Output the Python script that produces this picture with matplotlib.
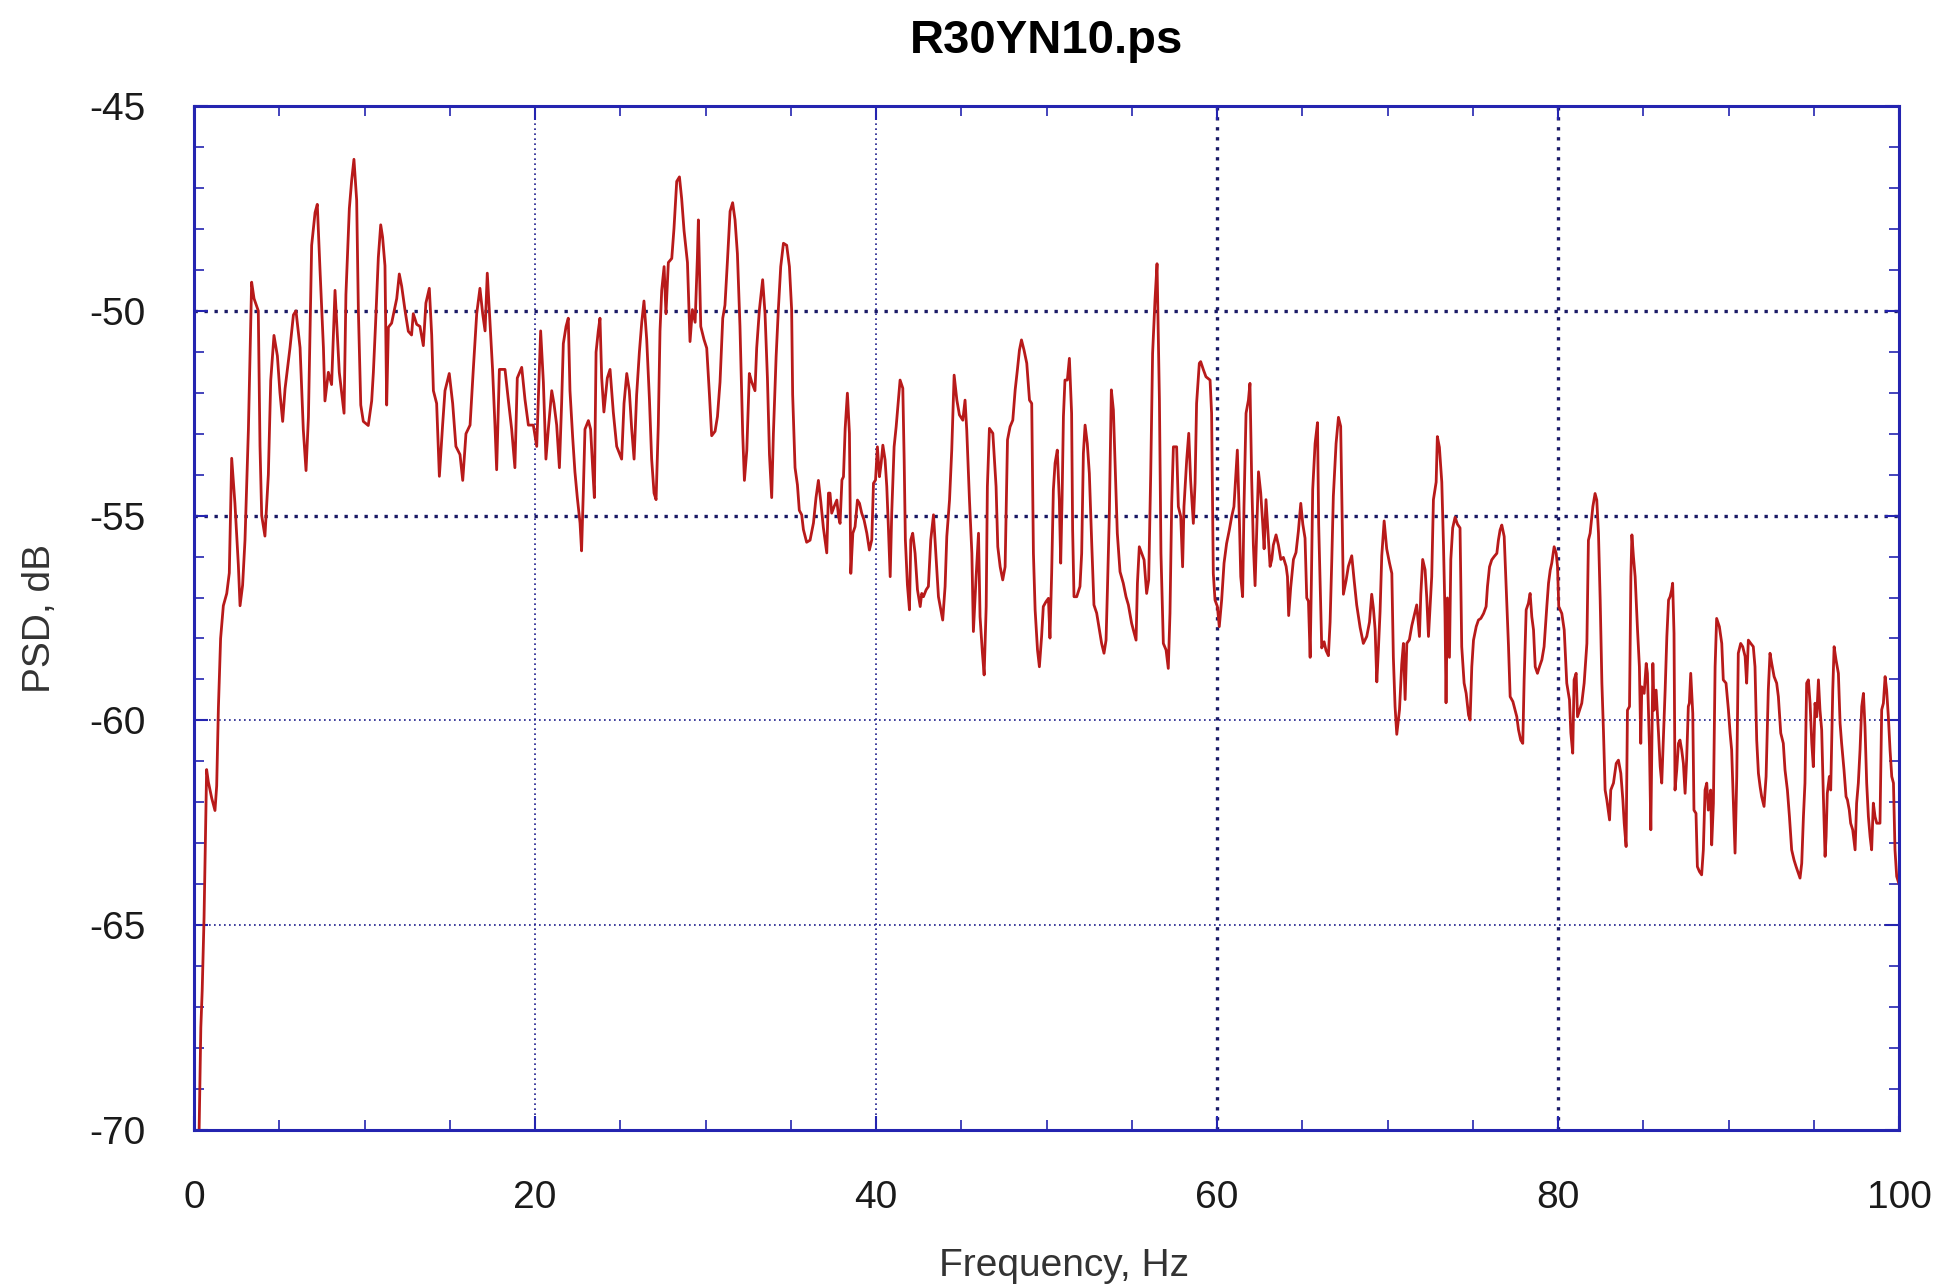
import matplotlib
matplotlib.use('Agg')
import matplotlib.pyplot as plt
from matplotlib.ticker import MultipleLocator

plt.rcParams['font.family'] = ['Liberation Sans', 'DejaVu Sans']
plt.rcParams['axes.unicode_minus'] = False

title = 'R30YN10.ps'
x_label = 'Frequency, Hz'
y_label = 'PSD, dB'

# spectrum, Hz
freq_hz = [
    0.30, 0.40, 0.48, 0.59, 0.74, 0.84, 1.04, 1.23, 1.33, 1.43, 1.56, 1.72, 1.92, 2.07, 2.21, 2.40,
    2.60, 2.70, 2.85, 2.99, 3.19, 3.38, 3.52, 3.77, 3.87, 3.97, 4.16, 4.36, 4.50, 4.69, 4.89, 5.04,
    5.20, 5.34, 5.63, 5.83, 5.98, 6.22, 6.41, 6.57, 6.71, 6.90, 7.10, 7.23, 7.39, 7.59, 7.68, 7.88,
    8.07, 8.27, 8.37, 8.52, 8.66, 8.80, 8.91, 9.11, 9.25, 9.38, 9.54, 9.64, 9.78, 9.93, 10.22, 10.42,
    10.52, 10.65, 10.81, 10.95, 11.06, 11.20, 11.30, 11.40, 11.59, 11.89, 12.04, 12.18, 12.38, 12.57,
    12.76, 12.86, 13.06, 13.25, 13.45, 13.60, 13.80, 13.94, 14.04, 14.23, 14.39, 14.58, 14.72, 14.97,
    15.17, 15.36, 15.60, 15.76, 15.95, 16.19, 16.38, 16.58, 16.77, 16.93, 17.07, 17.20, 17.36, 17.51,
    17.65, 17.75, 17.91, 18.24, 18.43, 18.63, 18.82, 18.96, 19.22, 19.41, 19.61, 19.90, 20.10, 20.25,
    20.33, 20.49, 20.64, 20.78, 20.98, 21.11, 21.27, 21.43, 21.56, 21.66, 21.82, 21.95, 22.05, 22.21,
    22.34, 22.48, 22.64, 22.73, 22.83, 22.93, 23.13, 23.26, 23.38, 23.48, 23.58, 23.71, 23.81, 23.91,
    24.04, 24.24, 24.40, 24.59, 24.79, 24.98,
    25.08, 25.22, 25.38, 25.53, 25.67, 25.81, 25.96, 26.12, 26.26, 26.39, 26.55, 26.71, 26.84, 26.98,
    27.10, 27.23, 27.33, 27.43, 27.57, 27.68, 27.82, 28.02, 28.15, 28.31, 28.47, 28.60, 28.74, 28.94,
    29.09, 29.23, 29.39, 29.52, 29.58, 29.72, 29.91, 30.07, 30.23, 30.36, 30.56, 30.70, 30.85, 31.01,
    31.14, 31.28, 31.44, 31.59, 31.73, 31.87, 32.02, 32.18, 32.28, 32.42, 32.57, 32.71, 32.90, 33.00,
    33.16, 33.35, 33.49, 33.63, 33.75, 33.88, 33.98, 34.14, 34.27, 34.41, 34.57, 34.76, 34.92, 35.05,
    35.11, 35.25, 35.39, 35.50, 35.64, 35.74, 35.93, 36.13, 36.33, 36.48, 36.62, 36.76, 36.91, 37.11,
    37.21, 37.30,
    37.40, 37.54, 37.70, 37.80, 37.89, 38.00, 38.09, 38.19, 38.32, 38.44, 38.52, 38.64, 38.77, 38.91,
    39.03, 39.16, 39.30, 39.46, 39.61, 39.75, 39.85, 39.97, 40.08, 40.20, 40.30, 40.40, 40.53, 40.63,
    40.73, 40.83, 40.92, 41.06, 41.18, 41.31, 41.41, 41.57, 41.65, 41.72, 41.84, 41.96, 42.04, 42.15,
    42.29, 42.43, 42.59, 42.68, 42.78, 42.94, 43.07, 43.21, 43.37, 43.52, 43.66, 43.80, 43.91, 44.05,
    44.15, 44.31, 44.44, 44.58, 44.74, 44.89, 45.09, 45.22, 45.32, 45.48, 45.62, 45.71, 45.87, 46.01,
    46.10, 46.24, 46.34, 46.46, 46.53, 46.65, 46.85, 47.04, 47.14, 47.28, 47.43, 47.57, 47.71, 47.86,
    48.02, 48.16, 48.29, 48.41, 48.53, 48.68, 48.84, 49.00, 49.13, 49.23, 49.33, 49.47, 49.58,
    49.71, 49.81, 49.97, 50.11, 50.20, 50.30, 50.40, 50.50, 50.63, 50.75, 50.83, 50.91, 50.99, 51.08,
    51.22, 51.34, 51.47, 51.53, 51.61, 51.77, 51.96, 52.06, 52.16, 52.26, 52.39, 52.51, 52.65, 52.78,
    52.94, 53.10, 53.23, 53.37, 53.49, 53.57, 53.68, 53.80, 53.92, 54.02, 54.15, 54.31, 54.50, 54.66,
    54.80, 54.99, 55.25, 55.33, 55.44, 55.58, 55.72, 55.87, 55.99, 56.11, 56.22, 56.36, 56.48, 56.62,
    56.71, 56.85, 57.01, 57.14, 57.24, 57.34, 57.44, 57.63, 57.73, 57.87, 57.98, 58.06, 58.22, 58.34,
    58.45, 58.61, 58.71, 58.80, 58.96, 59.04, 59.20, 59.35, 59.59, 59.68, 59.78, 59.88, 60.02, 60.13,
    60.27, 60.41, 60.56, 60.72, 60.86, 60.99, 61.11, 61.19, 61.31, 61.39, 61.50, 61.58, 61.70, 61.84,
    61.93,
    62.03, 62.13, 62.23, 62.33, 62.43, 62.56, 62.68, 62.76, 62.87, 63.01, 63.11, 63.21, 63.30, 63.46,
    63.60, 63.74, 63.89, 64.05, 64.13, 64.20, 64.32, 64.48, 64.63, 64.77, 64.91, 65.03, 65.16, 65.26,
    65.36, 65.46, 65.53, 65.61, 65.75, 65.89, 65.96, 66.04, 66.14, 66.28, 66.39, 66.53, 66.63, 66.73,
    66.82, 66.98, 67.12, 67.25, 67.33, 67.41, 67.57, 67.70, 67.90, 68.04, 68.19, 68.39, 68.58, 68.78,
    68.94, 69.07, 69.17, 69.27, 69.37, 69.46, 69.56, 69.66, 69.80, 69.95, 70.11, 70.25, 70.34, 70.44,
    70.54, 70.70, 70.83, 70.93, 71.03, 71.13, 71.28, 71.42, 71.56, 71.71, 71.87, 71.95, 72.06, 72.20,
    72.30, 72.40, 72.49, 72.59, 72.69, 72.85, 72.92, 73.04, 73.18, 73.28, 73.37, 73.43, 73.51, 73.63,
    73.71, 73.82, 73.96, 74.10, 74.25,
    74.35, 74.49, 74.61, 74.75, 74.84, 74.94, 75.04, 75.20, 75.33, 75.47, 75.63, 75.78, 75.86, 75.98,
    76.11, 76.25, 76.41, 76.50, 76.60, 76.70, 76.84, 76.95, 77.09, 77.19, 77.35, 77.48, 77.58, 77.68,
    77.81, 77.93, 78.01, 78.13, 78.26, 78.36, 78.46, 78.56, 78.66, 78.79, 78.91, 79.05, 79.18, 79.34,
    79.44, 79.54, 79.63, 79.77, 79.89, 79.97, 80.04, 80.22, 80.36, 80.51, 80.67, 80.75, 80.86, 80.94,
    81.06, 81.14, 81.26, 81.39, 81.53, 81.69, 81.78, 81.88, 82.04, 82.17, 82.27, 82.37, 82.47, 82.57,
    82.66, 82.76, 82.86, 83.02, 83.09, 83.25, 83.41, 83.54, 83.68, 83.80, 83.88, 83.99, 84.07, 84.19,
    84.27, 84.33, 84.42, 84.52, 84.66, 84.77, 84.85, 84.91, 85.05, 85.17, 85.24, 85.36, 85.44, 85.56,
    85.63, 85.75, 85.89, 85.99, 86.08, 86.18, 86.28, 86.38, 86.48, 86.57,
    86.66, 86.72, 86.80, 86.86, 86.96, 87.06, 87.15, 87.25, 87.35, 87.45, 87.54, 87.64, 87.70, 87.78,
    87.90, 87.97, 88.09, 88.17, 88.29, 88.42, 88.52, 88.62, 88.72, 88.81, 88.95, 89.01, 89.11, 89.21,
    89.30, 89.46, 89.60, 89.69, 89.85, 89.99, 90.09, 90.18, 90.28, 90.38, 90.48, 90.57, 90.71, 90.83,
    90.97, 91.06, 91.16, 91.30, 91.45, 91.55, 91.65, 91.75, 91.85, 91.94, 92.08, 92.20, 92.33, 92.43,
    92.53, 92.67, 92.82, 92.92, 93.06, 93.21, 93.31, 93.45, 93.57, 93.70, 93.84, 93.96, 94.09, 94.19,
    94.29, 94.39, 94.48, 94.58, 94.68, 94.78, 94.88, 94.97, 95.07, 95.17, 95.27, 95.36, 95.46, 95.56,
    95.66, 95.72, 95.79, 95.91, 95.99, 96.11, 96.19, 96.30, 96.44, 96.54, 96.63, 96.77, 96.89, 96.97,
    97.08, 97.16, 97.28, 97.42, 97.51, 97.61, 97.71, 97.81, 97.91, 98.00, 98.10, 98.20, 98.30, 98.39,
    98.49, 98.59, 98.69, 98.79, 98.88, 98.98, 99.08, 99.18, 99.27, 99.37, 99.47, 99.57, 99.67, 99.76,
    99.86, 100.0,
]

# PSD in dB at the frequencies above
psd_db = [
    -70.0, -67.5, -66.6, -64.8, -61.2, -61.5, -61.9, -62.2, -61.6, -59.7, -58.0, -57.2, -56.9, -56.4, -53.6, -54.7,
    -56.2, -57.2, -56.7, -55.6, -52.9, -49.3, -49.7, -50.0, -53.3, -55.0, -55.5, -54.0, -51.7, -50.6, -51.1, -52.0,
    -52.7, -51.9, -50.9, -50.1, -50.0, -50.9, -52.9, -53.9, -52.6, -48.4, -47.6, -47.4, -49.0, -50.9, -52.2, -51.5,
    -51.8, -49.5, -50.3, -51.5, -52.0, -52.5, -49.6, -47.5, -46.8, -46.3, -47.3, -50.0, -52.3, -52.7, -52.8, -52.2,
    -51.5, -50.3, -48.7, -47.9, -48.2, -48.9, -52.3, -50.4, -50.3, -49.7, -49.1, -49.4, -50.0, -50.5,
    -50.59, -50.07, -50.33, -50.38, -50.85, -49.81, -49.45, -50.59, -51.95, -52.26, -54.04, -52.79, -51.95, -51.53,
    -52.26, -53.31, -53.51, -54.14, -53.00, -52.79, -51.43, -50.07, -49.45, -50.07, -50.49, -49.08, -50.28, -51.43,
    -52.79, -53.88, -51.43, -51.43, -52.16, -52.89, -53.83, -51.64, -51.38, -52.16, -52.79, -52.79, -53.31, -51.43,
    -50.49, -51.74, -53.62, -52.89, -51.95, -52.26, -52.79, -53.83, -52.26, -50.80, -50.38, -50.18, -51.95, -53.10,
    -53.93, -54.56, -55.18, -55.86, -54.45, -52.89, -52.68, -52.89, -53.83, -54.56, -51.01, -50.49, -50.18, -51.64,
    -52.47, -51.64, -51.43, -52.47, -53.31, -53.51,
    -53.62, -52.26, -51.53, -51.95, -52.89, -53.62, -52.05, -51.01, -50.28, -49.76, -50.70, -52.16, -53.62, -54.45,
    -54.61, -52.79, -50.49, -49.50, -48.92, -50.07, -48.82, -48.72, -47.99, -46.84, -46.73, -47.26, -48.04, -48.82,
    -50.75, -49.97, -50.28, -48.72, -47.78, -50.38, -50.70, -50.91, -52.05, -53.05, -52.94, -52.58, -51.74, -50.18,
    -49.86, -48.82, -47.57, -47.36, -47.78, -48.61, -50.38, -53.00, -54.14, -53.41, -51.53, -51.74, -51.95, -50.91,
    -49.97, -49.24, -50.07, -51.64, -53.51, -54.56, -53.00, -51.12, -49.97, -48.92, -48.35, -48.40, -48.92, -49.97,
    -52.05, -53.83, -54.25, -54.87, -54.98, -55.34, -55.65, -55.60, -55.18, -54.56, -54.14, -54.66, -55.29, -55.91,
    -54.45, -54.45,
    -54.94, -54.78, -54.62, -55.02, -55.19, -54.13, -54.05, -52.87, -52.01, -52.99, -56.41, -55.43, -55.27, -54.62,
    -54.70, -54.94, -55.11, -55.43, -55.84, -55.59, -54.21, -54.13, -53.32, -54.05, -53.72, -53.28, -53.64, -54.29,
    -55.35, -56.49, -54.94, -53.32, -52.83, -52.18, -51.69, -51.89, -53.64, -55.59, -56.69, -57.30, -55.59, -55.43,
    -55.92, -56.81, -57.22, -56.90, -56.98, -56.81, -56.73, -55.59, -54.98, -56.00, -56.98, -57.30, -57.55, -56.73,
    -55.51, -54.62, -53.40, -51.57, -52.18, -52.54, -52.67, -52.18, -52.91, -54.62, -55.92, -57.83, -56.49, -55.43,
    -57.47, -58.36, -58.89, -57.22, -54.29, -52.87, -52.99, -54.29, -55.76, -56.25, -56.57, -56.25, -53.15, -52.83,
    -52.67, -51.93, -51.44, -50.96, -50.71, -50.96, -51.28, -52.18, -52.26, -55.92, -57.30, -58.28, -58.69,
    -57.95, -57.22, -57.10, -57.02, -57.99, -56.41, -54.37, -53.72, -53.40, -54.62, -56.16, -54.62, -52.58, -51.69,
    -51.69, -51.16, -52.50, -55.35, -56.98, -56.98, -56.73, -55.92, -53.48, -52.79, -53.24, -53.97, -55.68, -57.18,
    -57.38, -57.79, -58.12, -58.36, -58.04, -56.82, -55.02, -51.93, -52.42, -53.72, -55.43, -56.37, -56.65, -56.98,
    -57.18, -57.63, -58.04, -56.65, -55.76, -55.92, -56.08, -56.90, -56.57, -53.97, -51.04, -49.74, -48.85, -52.18,
    -55.92, -58.12, -58.28, -58.73, -57.38, -54.70, -53.32, -53.32, -54.78, -55.02, -56.25, -54.78, -53.64, -52.99,
    -54.13, -55.19, -54.21, -52.26, -51.28, -51.24, -51.44, -51.61, -51.69, -52.50, -56.41, -57.06, -57.22, -57.71,
    -57.06, -56.16, -55.68, -55.35, -55.02, -54.78, -53.97, -53.40, -55.11, -56.49, -56.98, -54.78, -52.50, -52.18,
    -51.77,
    -54.10, -55.72, -56.71, -55.30, -53.93, -54.44, -55.21, -55.81, -54.61, -55.55, -56.24, -56.07, -55.72, -55.47,
    -55.72, -56.07, -56.02, -56.24, -56.49, -57.44, -56.75, -56.07, -55.90, -55.38, -54.70, -55.21, -55.55, -57.01,
    -57.09, -58.46, -56.67, -54.36, -53.24, -52.73, -55.21, -56.58, -58.23, -58.08, -58.29, -58.42, -57.60, -56.07,
    -54.53, -53.24, -52.60, -52.82, -54.95, -56.92, -56.58, -56.24, -55.98, -56.58, -57.18, -57.73, -58.12, -57.95,
    -57.60, -56.92, -57.26, -57.78, -59.06, -58.29, -57.35, -55.98, -55.13, -55.81, -56.15, -56.41, -58.46, -59.66,
    -60.34, -59.74, -58.63, -58.12, -59.49, -58.12, -58.03, -57.69, -57.44, -57.18, -57.95, -56.92, -56.07, -56.32,
    -57.01, -57.95, -57.26, -56.49, -54.61, -54.18, -53.07, -53.33, -54.18, -55.72, -57.44, -59.57, -57.01, -58.46,
    -56.07, -55.30, -55.04, -55.21, -55.30,
    -58.20, -59.09, -59.34, -59.87, -59.99, -58.69, -58.04, -57.71, -57.55, -57.51, -57.39, -57.22, -56.73, -56.25,
    -56.08, -56.00, -55.92, -55.60, -55.35, -55.23, -55.51, -56.65, -58.16, -59.42, -59.54, -59.75, -59.91, -60.23,
    -60.48, -60.56, -59.01, -57.30, -57.14, -56.90, -57.47, -57.79, -58.69, -58.85, -58.69, -58.52, -58.20, -57.22,
    -56.65, -56.33, -56.16, -55.76, -55.92, -56.25, -57.22, -57.39, -57.79, -59.09, -59.50, -60.31, -60.80, -59.01,
    -58.85, -59.91, -59.75, -59.58, -59.09, -58.12, -55.60, -55.43, -54.78, -54.46, -54.62, -55.43, -57.06, -59.09,
    -60.23, -61.70, -61.94, -62.43, -61.70, -61.53, -61.05, -60.97, -61.29, -61.94, -62.51, -63.08, -59.75, -59.66,
    -56.49, -55.47, -56.00, -56.49, -57.79, -58.69, -60.56, -59.18, -59.34, -58.61, -58.85, -60.64, -62.67, -58.61,
    -59.75, -59.26, -60.31, -61.13, -61.53, -60.40, -59.26, -57.95, -57.06, -56.98,
    -56.82, -56.65, -57.87, -61.70, -61.21, -60.56, -60.48, -60.72, -61.05, -61.78, -60.97, -59.66, -59.58, -58.85,
    -59.83, -62.19, -62.27, -63.57, -63.69, -63.77, -63.16, -61.70, -61.53, -62.19, -61.70, -63.04, -62.02, -58.69,
    -57.51, -57.71, -58.12, -59.01, -59.09, -59.74, -60.31, -60.72, -62.02, -63.24, -61.37, -58.36, -58.12, -58.20,
    -58.44, -59.09, -58.04, -58.12, -58.20, -58.69, -60.48, -61.29, -61.62, -61.86, -62.10, -61.37, -59.26, -58.36,
    -58.61, -58.93, -59.09, -59.42, -60.31, -60.56, -61.21, -61.70, -62.35, -63.16, -63.41, -63.57, -63.73, -63.85,
    -63.49, -62.35, -61.53, -59.09, -59.01, -59.58, -60.56, -61.13, -59.58, -59.91, -59.01, -59.74, -60.23, -61.86,
    -63.32, -62.84, -61.78, -61.37, -61.70, -59.26, -58.20, -58.52, -58.85, -60.07, -60.56, -61.21, -61.86, -61.94,
    -62.19, -62.51, -62.67, -63.16, -62.02, -61.53, -60.72, -59.66, -59.34, -60.15, -61.53, -62.35, -62.84, -63.16,
    -62.02, -62.35, -62.51, -62.51, -62.51, -59.74, -59.58, -58.93, -59.26, -59.91, -60.72, -61.37, -61.53, -63.16,
    -63.81, -64.0,
]

x_ticks = [0, 20, 40, 60, 80, 100]
y_ticks = [-70, -65, -60, -55, -50, -45]

frame_blue = '#2424b0'

fig = plt.figure(figsize=(19.42, 12.87), dpi=100)
ax = fig.add_axes([0.0999, 0.122, 0.878, 0.7956])

ax.plot(freq_hz, psd_db, color='#b81a1a', linewidth=2.0)

ax.set_xlim(0, 100)
ax.set_ylim(-70, -45)
ax.set_xticks(x_ticks)
ax.set_yticks(y_ticks)
ax.xaxis.set_minor_locator(MultipleLocator(5))
ax.yaxis.set_minor_locator(MultipleLocator(1))

ax.tick_params(which='both', direction='in', top=True, right=True,
               color=frame_blue, labelsize=28, labelcolor='#1a1a1a')
ax.tick_params(which='major', length=10, width=1.5)
ax.tick_params(which='minor', length=7, width=1.2)
ax.tick_params(axis='x', which='major', pad=36)
ax.tick_params(axis='y', which='major', pad=35)

for s in ax.spines.values():
    s.set_color(frame_blue)
    s.set_linewidth(2.2)

# dotted grid, some lines look heavier in the original
ax.grid(True, which='major', linestyle=(0, (1, 2)), color='#1c1c8c', linewidth=1.2)
heavy_y = [-50, -55]
heavy_x = [60, 80]
for val, gl in zip(ax.get_yticks(), ax.yaxis.get_gridlines()):
    if val in heavy_y:
        gl.set_linewidth(2.4)
        gl.set_color('#1a1a66')
for val, gl in zip(ax.get_xticks(), ax.xaxis.get_gridlines()):
    if val in heavy_x:
        gl.set_linewidth(2.4)
        gl.set_color('#1a1a66')

ax.set_title(title, fontsize=34, fontweight='bold', pad=38)
ax.set_xlabel(x_label, fontsize=28, color='#333333', labelpad=26)
ax.xaxis.set_label_coords(0.51, -0.115)
ax.set_ylabel(y_label, fontsize=28, color='#333333', labelpad=22)

fig.savefig('out.png', dpi=100, facecolor='white')
